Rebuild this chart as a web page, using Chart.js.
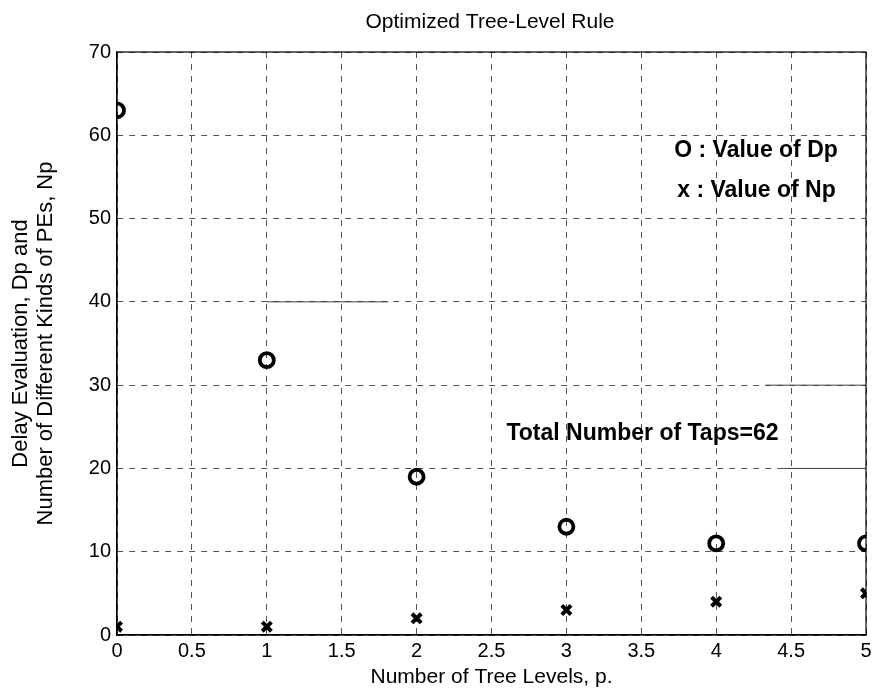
<!DOCTYPE html>
<html>
<head>
<meta charset="utf-8">
<script src="https://cdn.jsdelivr.net/npm/chart.js@4/dist/chart.umd.min.js"></script>
<style>
  html, body { margin: 0; padding: 0; background: #fff; }
  #wrap { width: 873px; height: 690px; }
</style>
</head>
<body>
<div id="wrap"><canvas id="treeChart" width="873" height="690"></canvas></div>
<script>
// tree levels p
const levels = [0, 1, 2, 3, 4, 5];
// delay evaluation Dp (circles)
const dpValues = [63, 33, 19, 13, 11, 11];
// number of different kinds of PEs Np (crosses)
const npValues = [1, 1, 2, 3, 4, 5];

const xTicks = [0, 0.5, 1, 1.5, 2, 2.5, 3, 3.5, 4, 4.5, 5];
const yTicks = [0, 10, 20, 30, 40, 50, 60, 70];

// stray solid grid segments visible in the scan
const segY40 = [{ x: 1, y: 40 }, { x: 1.81, y: 40 }];
const segY30 = [{ x: 4.33, y: 30 }, { x: 5, y: 30 }];
const segY20 = [{ x: 4.44, y: 20 }, { x: 5, y: 20 }];

const FONT = "'Liberation Sans', Arial, Helvetica, sans-serif";

const boxAndText = {
    id: 'boxAndText',
    afterDraw(chart) {
        const { ctx, chartArea: a, scales } = chart;
        ctx.save();
        // frame
        ctx.strokeStyle = '#000';
        ctx.lineWidth = 1.2;
        ctx.strokeRect(a.left, a.top, a.right - a.left, a.bottom - a.top);

        // title
        ctx.fillStyle = '#000';
        ctx.font = `21px ${FONT}`;
        ctx.textAlign = 'center';
        ctx.textBaseline = 'middle';
        ctx.fillText('Optimized Tree-Level Rule', 490, 22);

        // annotations
        ctx.font = `bold 23px ${FONT}`;
        ctx.textAlign = 'left';
        const xs = scales.x, ys = scales.y;
        ctx.fillText('O : Value of Dp', xs.getPixelForValue(3.72), ys.getPixelForValue(58.2));
        ctx.fillText('x : Value of Np', xs.getPixelForValue(3.74), ys.getPixelForValue(53.4));
        ctx.fillText('Total Number of Taps=62', xs.getPixelForValue(2.6), ys.getPixelForValue(24.2));
        ctx.restore();
    }
};

const ctx = document.getElementById('treeChart').getContext('2d');
new Chart(ctx, {
    type: 'scatter',
    data: {
        datasets: [
            {
                label: 'Dp',
                data: levels.map((p, i) => ({ x: p, y: dpValues[i] })),
                pointStyle: 'circle',
                pointRadius: 7,
                borderWidth: 3.8,
                borderColor: '#000',
                backgroundColor: 'rgba(0,0,0,0)'
            },
            {
                label: 'Np',
                data: levels.map((p, i) => ({ x: p, y: npValues[i] })),
                pointStyle: 'crossRot',
                pointRadius: 6.5,
                borderWidth: 4,
                borderColor: '#000',
                backgroundColor: '#000'
            },
            ...[segY40, segY30, segY20].map(seg => ({
                type: 'line',
                data: seg,
                showLine: true,
                borderColor: '#444',
                borderWidth: 1,
                pointRadius: 0
            }))
        ]
    },
    options: {
        responsive: false,
        animation: false,
        layout: { autoPadding: false, padding: { top: 52, right: 7, left: 0, bottom: 0 } },
        plugins: {
            legend: { display: false },
            tooltip: { enabled: false }
        },
        scales: {
            x: {
                type: 'linear',
                min: 0,
                max: 5,
                afterBuildTicks: axis => { axis.ticks = xTicks.map(v => ({ value: v })); },
                afterFit: axis => {
                    axis.height = 55;
                    axis.paddingLeft = 0;
                    axis.paddingRight = 0;
                },
                ticks: {
                    color: '#000',
                    font: { family: FONT, size: 20 },
                    padding: 4,
                    maxRotation: 0,
                    callback: v => String(v)
                },
                grid: {
                    color: '#555',
                    lineWidth: 1,
                    drawTicks: false
                },
                border: { display: true, color: '#000', width: 1.2, dash: [6, 6] },
                title: {
                    display: true,
                    text: 'Number of Tree Levels, p.',
                    color: '#000',
                    font: { family: FONT, size: 21 },
                    padding: { top: 0, bottom: 0 }
                }
            },
            y: {
                min: 0,
                max: 70,
                afterBuildTicks: axis => { axis.ticks = yTicks.map(v => ({ value: v })); },
                afterFit: axis => { axis.width = 117; },
                ticks: {
                    color: '#000',
                    font: { family: FONT, size: 20 },
                    padding: 6
                },
                grid: {
                    color: '#555',
                    lineWidth: 1,
                    drawTicks: false
                },
                border: { display: true, color: '#000', width: 1.2, dash: [6, 6] },
                title: {
                    display: true,
                    text: ['Delay Evaluation, Dp and', 'Number of Different Kinds of PEs, Np'],
                    color: '#000',
                    font: { family: FONT, size: 22, lineHeight: 1.15 },
                    padding: { top: 8, bottom: 0 }
                }
            }
        }
    },
    plugins: [boxAndText]
});
</script>
</body>
</html>
